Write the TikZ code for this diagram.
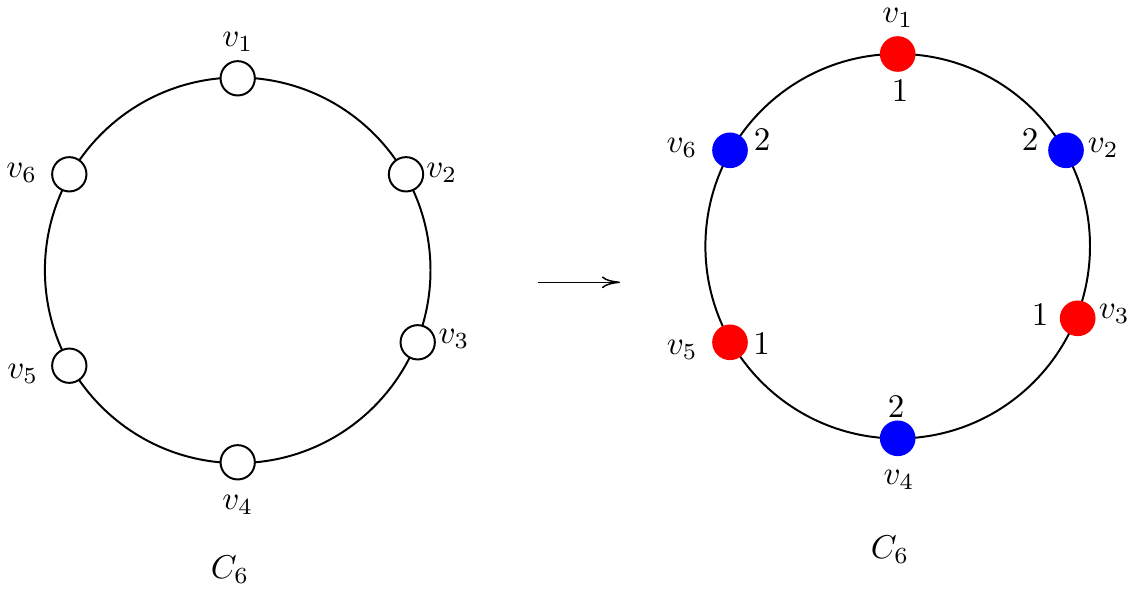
\documentclass[tikz,border=0pt]{standalone}
\usetikzlibrary{arrows.meta}
\begin{document}
\begin{tikzpicture}[x=0.30303pt,y=-0.30303pt,
  vopen/.style={circle,draw,fill=white,line width=0.6pt,minimum size=10.4pt,inner sep=0pt},
  vred/.style={circle,fill=red,minimum size=10.8pt,inner sep=0pt},
  vblue/.style={circle,fill=blue,minimum size=10.8pt,inner sep=0pt},
  lbl/.style={inner sep=0pt}]
\useasboundingbox (0,0) rectangle (1141,592);
% left cycle
\draw[line width=0.6pt] (237.7,270.3) circle [radius=192.8];
\node[vopen] (a1) at (237.7,78.3) {};
\node[vopen] (a2) at (406,174.3) {};
\node[vopen] (a3) at (417.7,342.3) {};
\node[vopen] (a4) at (237.7,462.3) {};
\node[vopen] (a5) at (69.3,365.7) {};
\node[vopen] (a6) at (69.3,174.3) {};
\node[lbl] (la1) at (237.7,42) {$v_1$};
\node[lbl] (la2) at (441.7,173) {$v_2$};
\node[lbl] (la3) at (454,339.3) {$v_3$};
\node[lbl] (la4) at (237.7,505) {$v_4$};
\node[lbl] (la5) at (22.7,374) {$v_5$};
\node[lbl] (la6) at (21.7,172.7) {$v_6$};
\node[lbl] (ca) at (230,569.3) {$C_6$};
% arrow
\coordinate (p) at (538,282.3);
\coordinate (q) at (620,282.3);
\draw[line width=0.45pt,-{To[length=5.5pt,width=3.6pt]}] (p) -- (q);
% right cycle
\draw[line width=0.6pt] (897.7,246.2) circle [radius=192.3];
\node[vred] (b1) at (897.7,54) {};
\node[vblue] (b2) at (1066,150.3) {};
\node[vred] (b3) at (1077.7,318.3) {};
\node[vblue] (b4) at (897.7,438.3) {};
\node[vred] (b5) at (730,342.3) {};
\node[vblue] (b6) at (730,150.3) {};
\node[lbl] (lb1) at (897.7,18.3) {$v_1$};
\node[lbl] (lb2) at (1103.3,148) {$v_2$};
\node[lbl] (lb3) at (1114.3,314) {$v_3$};
\node[lbl] (lb4) at (899,480) {$v_4$};
\node[lbl] (lb5) at (682.3,350) {$v_5$};
\node[lbl] (lb6) at (682,147.7) {$v_6$};
\node[lbl] (cb1) at (900,90.7) {$1$};
\node[lbl] (cb2) at (1030,140) {$2$};
\node[lbl] (cb3) at (1040,315) {$1$};
\node[lbl] (cb4) at (896,406.7) {$2$};
\node[lbl] (cb5) at (761.7,344) {$1$};
\node[lbl] (cb6) at (762,140) {$2$};
\node[lbl] (cb) at (890,549.3) {$C_6$};
\end{tikzpicture}
\end{document}
